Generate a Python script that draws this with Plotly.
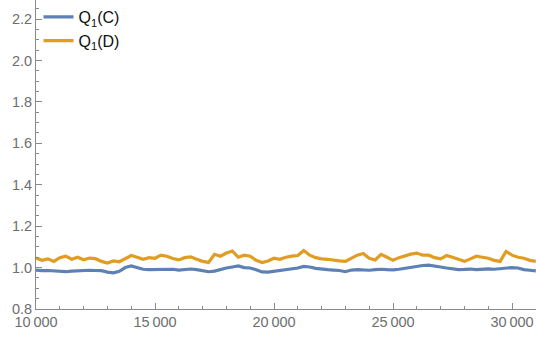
import plotly.graph_objects as go

steps = list(range(10000, 31001, 250))

q1_c = [0.988, 0.985, 0.986, 0.984, 0.982, 0.980, 0.983, 0.985, 0.988, 0.987,
        0.986, 0.985, 0.978, 0.975, 0.982, 1.000, 1.008, 0.998, 0.992, 0.990,
        0.991, 0.992, 0.994, 0.992, 0.988, 0.990, 0.993, 0.990, 0.985, 0.980,
        0.983, 0.992, 0.998, 1.003, 1.008, 1.000, 0.998, 0.990, 0.979, 0.978,
        0.982, 0.985, 0.990, 0.994, 0.998, 1.006, 1.003, 0.996, 0.992, 0.990,
        0.988, 0.986, 0.980, 0.988, 0.990, 0.988, 0.987, 0.990, 0.992, 0.990,
        0.989, 0.992, 0.997, 1.003, 1.008, 1.010, 1.012, 1.006, 1.003, 0.998,
        0.994, 0.990, 0.991, 0.993, 0.990, 0.992, 0.994, 0.992, 0.995, 0.997,
        1.000, 0.998, 0.990, 0.987, 0.984]

q1_d = [1.046, 1.035, 1.042, 1.030, 1.048, 1.055, 1.040, 1.050, 1.038, 1.046,
        1.043, 1.030, 1.022, 1.032, 1.028, 1.045, 1.058, 1.050, 1.040, 1.048,
        1.045, 1.060, 1.055, 1.044, 1.037, 1.048, 1.052, 1.040, 1.030, 1.025,
        1.064, 1.055, 1.070, 1.080, 1.050, 1.060, 1.055, 1.035, 1.024, 1.032,
        1.045, 1.040, 1.050, 1.055, 1.058, 1.082, 1.060, 1.048, 1.042, 1.040,
        1.035, 1.032, 1.030, 1.045, 1.060, 1.068, 1.045, 1.037, 1.064, 1.050,
        1.035, 1.048, 1.058, 1.065, 1.070, 1.060, 1.060, 1.048, 1.042, 1.058,
        1.050, 1.040, 1.030, 1.042, 1.055, 1.050, 1.045, 1.035, 1.030, 1.078,
        1.060, 1.050, 1.045, 1.035, 1.030]

x_tickvals = [10000, 15000, 20000, 25000, 30000]
x_ticktext = ["10\u2009000", "15\u2009000", "20\u2009000", "25\u2009000", "30\u2009000"]
y_tickvals = [0.8, 1.0, 1.2, 1.4, 1.6, 1.8, 2.0, 2.2]
y_ticktext = ["0.8", "1.0", "1.2", "1.4", "1.6", "1.8", "2.0", "2.2"]

fig = go.Figure()
fig.add_trace(go.Scatter(x=steps, y=q1_c, mode="lines", name="Q<sub>1</sub>(C)",
                         line=dict(color="#5E81B5", width=3.2)))
fig.add_trace(go.Scatter(x=steps, y=q1_d, mode="lines", name="Q<sub>1</sub>(D)",
                         line=dict(color="#E19C24", width=3.2)))

axis_color = "#8a8a8a"
tick_font = dict(family="Liberation Sans, Arial, sans-serif", size=14.5, color="#6e6e6e")

fig.update_layout(
    width=536, height=337,
    margin=dict(l=36, r=0, t=0, b=28),
    paper_bgcolor="white", plot_bgcolor="white",
    showlegend=True,
    legend=dict(x=0.005, y=1.0, xanchor="left", yanchor="top",
                bgcolor="rgba(0,0,0,0)", itemwidth=30,
                font=dict(family="Liberation Sans, Arial, sans-serif", size=16, color="#111111"),
                tracegroupgap=0),
    xaxis=dict(range=[10000, 31008], showgrid=False, zeroline=False,
               showline=True, linecolor=axis_color, linewidth=1,
               ticks="inside", ticklen=6, tickcolor=axis_color,
               tickvals=x_tickvals, ticktext=x_ticktext, tickfont=tick_font,
               minor=dict(dtick=1000, tick0=10000, ticks="inside", ticklen=3, tickcolor=axis_color)),
    yaxis=dict(range=[0.8, 2.292], showgrid=False, zeroline=False,
               showline=True, linecolor=axis_color, linewidth=1,
               ticks="inside", ticklen=6, tickcolor=axis_color,
               tickvals=y_tickvals, ticktext=y_ticktext, tickfont=tick_font,
               minor=dict(dtick=0.05, tick0=0.8, ticks="inside", ticklen=3, tickcolor=axis_color)),
)

fig.write_html("out.html", config={"displayModeBar": False},
               post_script="document.body.style.margin='0px';document.body.style.overflow='hidden';")
